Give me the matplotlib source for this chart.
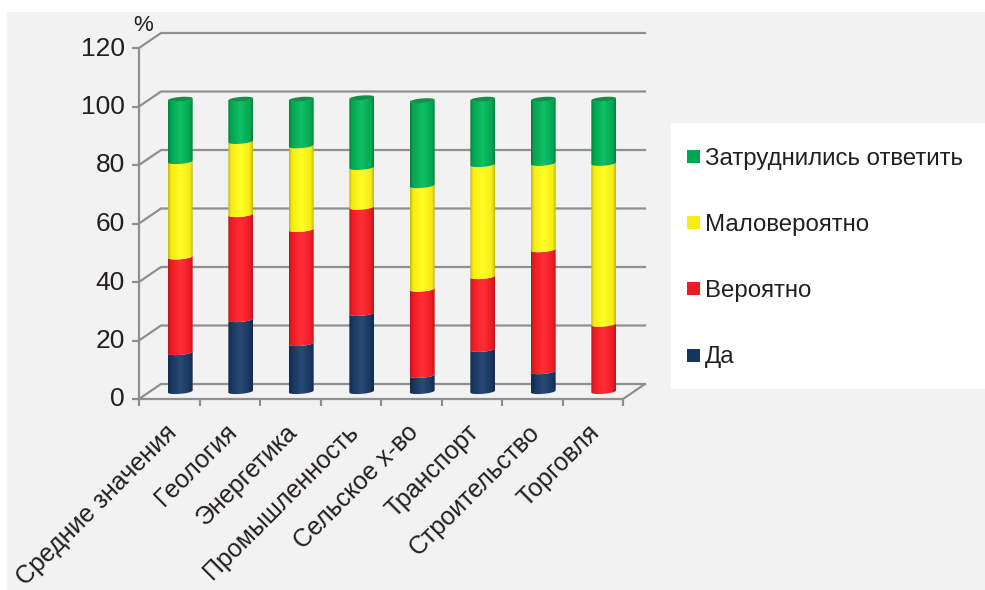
import numpy as np
import matplotlib
matplotlib.use("Agg")
import matplotlib.pyplot as plt
from matplotlib.colors import LinearSegmentedColormap
from matplotlib.patches import Polygon, Rectangle
from matplotlib.transforms import ScaledTranslation

W, H = 985, 590

categories = ["Средние значения", "Геология", "Энергетика", "Промышленность",
              "Сельское х-во", "Транспорт", "Строительство", "Торговля"]
yes_vals = [13.3, 24.6, 16.4, 26.7, 5.5, 14.4, 6.8, 0]
likely_vals = [32.7, 35.9, 39.0, 36.3, 29.5, 24.9, 41.7, 23.0]
unlikely_vals = [32.6, 25.0, 28.6, 13.6, 35.4, 38.3, 29.5, 55.0]
hard_vals = [21.4, 14.5, 16.0, 23.9, 29.1, 22.4, 22.0, 22.0]
y_ticks = [0, 20, 40, 60, 80, 100, 120]
series_names = ["Да", "Вероятно", "Маловероятно", "Затруднились ответить"]
series_colors = ["#17365f", "#ed1c24", "#f7ec13", "#00a651"]

plt.rcParams["font.family"] = ["Liberation Sans", "DejaVu Sans"]
GRID = "#8f8f8f"
DX, DY = 22 / 60.5, 15 / 2.925  # depth of the floor in data units
BAR_W = 0.41
ARC = 0.8


def shade(color):
    rgb = np.array(matplotlib.colors.to_rgb(color))
    dark = rgb * 0.78
    light = np.minimum(rgb * 1.05 + 0.07, 1)
    return LinearSegmentedColormap.from_list(
        "s", [(0, dark), (0.12, rgb), (0.5, light), (0.88, rgb), (1, dark)])


def lower_edge(x0, base):
    # front curve of the cylinder, tilted up to the right
    u = np.linspace(-1, 1, 40)
    return x0 + u * BAR_W / 2, base - ARC * np.sqrt(1 - u ** 2) + u * 0.35


def draw_segment(ax, x0, low, high, color, z):
    xl, yl = lower_edge(x0, low)
    xh, yh = lower_edge(x0, high)
    pts = np.column_stack([np.r_[xl, xh[::-1]], np.r_[yl, yh[::-1]]])
    clip = Polygon(pts, closed=True, transform=ax.transData, fc="none", ec="none")
    ax.add_patch(clip)
    grad = np.linspace(0, 1, 64).reshape(1, -1)
    im = ax.imshow(grad, extent=[x0 - BAR_W / 2, x0 + BAR_W / 2, low - 3, high + 3],
                   cmap=shade(color), aspect="auto", zorder=z, interpolation="bilinear")
    im.set_clip_path(clip)


fig = plt.figure(figsize=(W / 100, H / 100), dpi=100, facecolor="white")
fig.add_artist(Rectangle((7 / W, 0), 1, 1 - 12 / H, transform=fig.transFigure,
                         fc="#f2f2f2", ec="none", zorder=-2))

# plot frame: front plane of the floor, x from 139 to 623 px, y 0 at 399 and 120 at 48
ax = fig.add_axes([139 / W, 1 - 399 / H, (623 - 139) / W, (399 - 48) / H])
ax.set_xlim(0, 8)
ax.set_ylim(0, 120)
ax.patch.set_visible(False)
for s in ax.spines.values():
    s.set_visible(False)

for t in y_ticks:
    ax.plot([0, DX, 8 + DX], [t, t + DY, t + DY], color=GRID, lw=1.6, clip_on=False, zorder=1)
ax.plot([0, 0], [0, 120], color=GRID, lw=1.6, clip_on=False, zorder=1)
ax.plot([0, 8, 8 + DX], [0, 0, DY], color=GRID, lw=1.6, clip_on=False, zorder=1)

ax.set_xticks(np.arange(9))
ax.set_xticklabels([])
ax.set_yticks(y_ticks)
ax.set_yticklabels([str(t) for t in y_ticks], fontsize=19, color="#231f20")
ax.tick_params(axis="both", color=GRID, width=1.6, length=5, pad=5)
for label in ax.get_yticklabels():
    label.set_transform(label.get_transform() + ScaledTranslation(0, 2 / 100, fig.dpi_scale_trans))

for i, name in enumerate(categories):
    ax.annotate(name, (i + 0.5, 0), xytext=(i + 0.5 - 0.085, -7.2), textcoords="data",
                rotation=45, rotation_mode="anchor", ha="right", va="top",
                fontsize=18, color="#231f20", annotation_clip=False)

stack = [yes_vals, likely_vals, unlikely_vals, hard_vals]
for i in range(len(categories)):
    x0 = i + 0.5 + DX / 2
    bottom = DY / 2
    for vals, color in zip(stack, series_colors):
        v = vals[i]
        if v > 0:
            draw_segment(ax, x0, bottom, bottom + v, color, 3)
        bottom += v
    # top cap of the cylinder
    u = np.linspace(0, 2 * np.pi, 60)
    cap_x = x0 + np.cos(u) * BAR_W / 2
    cap_y = bottom - 0.1 + np.sin(u) * ARC + np.cos(u) * 0.35
    ax.fill(cap_x, cap_y, color="#0f9148", zorder=4, lw=0)

ax.set_xlim(0, 8)
ax.set_ylim(0, 120)

ax.text(-0.1, 124, "%", fontsize=16, color="#231f20", ha="left", va="bottom")

# legend panel
fig.add_artist(Rectangle((671 / W, 1 - 389 / H), (W - 671) / W, 266 / H,
                         transform=fig.transFigure, fc="white", ec="none", zorder=-1))
legend_y = [356, 289, 223, 157]
for name, color, py in zip(series_names, series_colors, legend_y):
    fig.add_artist(Rectangle((687 / W, 1 - (py + 6) / H), 13 / W, 13 / H,
                             transform=fig.transFigure, fc=color, ec="none"))
    fig.text(705 / W, 1 - (py + 1.5) / H, name, fontsize=17.3, color="#231f20",
             ha="left", va="center")

fig.savefig("out.png", dpi=100, facecolor=fig.get_facecolor())
plt.close(fig)
